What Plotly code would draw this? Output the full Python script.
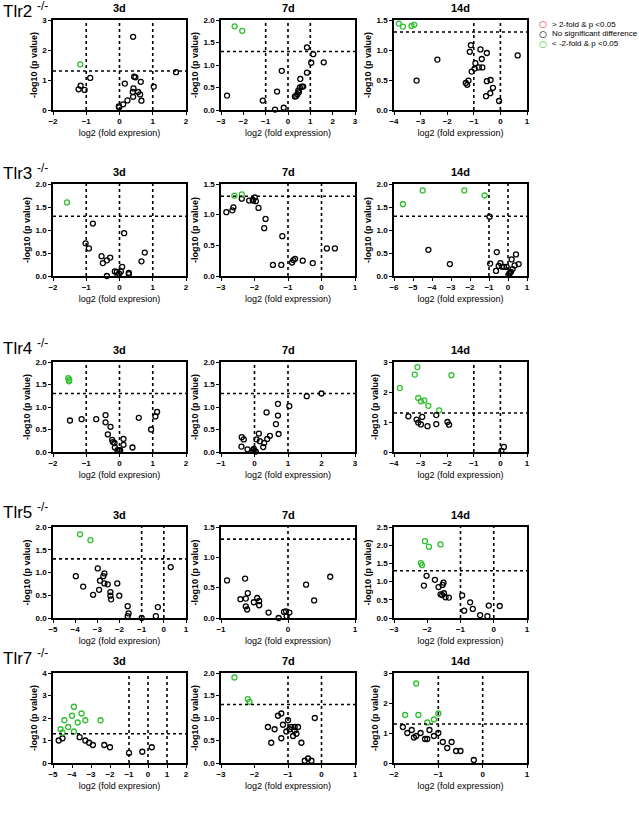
import plotly.graph_objects as go

# ---------------- data ----------------
# Tlr2
tlr2_3d_ns_x = [-0.88, -1.17, -1.23, -1.05, 0.41, 0.44, 0.48, 0.16, 0.64, 0.42, 0.40, 0.56, 0.62, 0.41, 0.24, 0.66, 0.11, -0.02, -0.01, 1.03, 1.70]
tlr2_3d_ns_y = [1.07, 0.81, 0.69, 0.67, 2.44, 1.11, 1.09, 0.88, 0.94, 0.72, 0.60, 0.60, 0.52, 0.44, 0.32, 0.31, 0.19, 0.12, 0.09, 0.78, 1.26]
tlr2_3d_dn_x = [-1.18]
tlr2_3d_dn_y = [1.52]

tlr2_7d_ns_x = [-2.73, -1.13, -0.58, -0.28, -0.49, -0.19, 0.85, 1.13, 1.04, 1.60, 0.85, 0.55, 0.46, 0.53, 0.62, 0.68, 0.49, 0.42, 0.37, 0.31]
tlr2_7d_ns_y = [0.32, 0.21, 0.01, 0.87, 0.41, 0.05, 1.39, 1.24, 1.05, 1.06, 0.83, 0.69, 0.43, 0.50, 0.52, 0.52, 0.40, 0.35, 0.31, 0.30]
tlr2_7d_dn_x = [-2.39, -2.05]
tlr2_7d_dn_y = [1.86, 1.76]

tlr2_14d_ns_x = [-3.15, -2.37, -1.11, -1.15, -0.75, -0.51, 0.65, -0.70, -0.94, -0.97, -1.08, -0.81, -0.68, -1.30, -1.20, -1.25, -0.51, -0.37, -0.28, -0.38, -0.54, -0.05]
tlr2_14d_ns_y = [0.49, 0.84, 1.08, 0.97, 1.01, 0.95, 0.91, 0.85, 0.78, 0.69, 0.64, 0.71, 0.71, 0.45, 0.49, 0.42, 0.48, 0.50, 0.37, 0.28, 0.23, 0.15]
tlr2_14d_dn_x = [-3.82, -3.66, -3.34, -3.24]
tlr2_14d_dn_y = [1.44, 1.39, 1.40, 1.42]

# Tlr3
tlr3_3d_ns_x = [-0.80, -1.02, -0.92, -0.54, -0.50, -0.38, -0.28, 0.14, 0.08, -0.14, -0.08, -0.01, 0.04, -0.38, 0.28, 0.28, 0.66, 0.76, -0.06]
tlr3_3d_ns_y = [1.14, 0.71, 0.60, 0.43, 0.28, 0.34, 0.40, 0.93, 0.20, 0.10, 0.09, 0.05, 0.10, 0.00, 0.07, 0.04, 0.32, 0.51, 0.02]
tlr3_3d_dn_x = [-1.58]
tlr3_3d_dn_y = [1.60]

tlr3_7d_ns_x = [-2.84, -2.66, -2.63, -2.38, -2.16, -2.05, -1.99, -1.96, -2.04, -1.88, -1.67, -1.71, -1.17, -1.45, -1.20, -0.88, -0.84, -0.79, -0.56, -0.26, 0.16, 0.40]
tlr3_7d_ns_y = [1.04, 1.07, 1.12, 1.26, 1.23, 1.24, 1.28, 1.22, 1.23, 1.11, 0.93, 0.78, 0.65, 0.18, 0.18, 0.22, 0.26, 0.28, 0.25, 0.21, 0.45, 0.45]
tlr3_7d_dn_x = [-2.60, -2.38]
tlr3_7d_dn_y = [1.31, 1.33]

tlr3_14d_ns_x = [-0.97, -4.19, -3.06, -0.94, -0.59, -0.40, -0.49, -0.31, -0.21, -0.07, -0.63, 0.42, 0.19, 0.35, 0.56, 0.24, 0.16, 0.07, 0.02, 0.10]
tlr3_14d_ns_y = [1.29, 0.57, 0.26, 0.27, 0.52, 0.28, 0.22, 0.20, 0.20, 0.20, 0.11, 0.47, 0.36, 0.23, 0.26, 0.15, 0.09, 0.05, 0.02, 0.07]
tlr3_14d_dn_x = [-5.53, -4.49, -2.30, -1.23]
tlr3_14d_dn_y = [1.56, 1.86, 1.86, 1.75]

# Tlr4
tlr4_3d_ns_x = [-1.49, -1.14, -0.70, -0.42, -0.42, -0.27, -0.35, -0.22, -0.20, -0.15, -0.14, -0.06, -0.01, 0.02, 0.12, 0.12, 0.39, 0.58, 0.95, 1.08, 1.13]
tlr4_3d_ns_y = [0.70, 0.73, 0.73, 0.82, 0.66, 0.56, 0.39, 0.27, 0.22, 0.20, 0.10, 0.04, 0.03, 0.04, 0.29, 0.16, 0.10, 0.76, 0.50, 0.79, 0.89]
tlr4_3d_dn_x = [-1.54, -1.51, -1.52]
tlr4_3d_dn_y = [1.64, 1.60, 1.57]

tlr4_7d_ns_x = [2.00, 1.56, 1.04, 0.70, 0.70, 0.72, 0.64, 0.36, 0.46, 0.38, 0.29, 0.26, 0.13, 0.06, 0.16, -0.38, -0.32, -0.39, -0.21, -0.04, 0.00, 0.04, -0.02]
tlr4_7d_ns_y = [1.30, 1.24, 1.02, 1.07, 0.81, 0.40, 0.62, 0.88, 0.36, 0.29, 0.20, 0.11, 0.41, 0.28, 0.24, 0.33, 0.28, 0.12, 0.06, 0.04, 0.02, 0.01, 0.07]
tlr4_7d_dn_x = []
tlr4_7d_dn_y = []

tlr4_14d_ns_x = [-3.46, -3.15, -3.09, -2.99, -2.94, -2.74, -2.41, -2.41, -1.99, -1.93, 0.13, 0.04]
tlr4_14d_ns_y = [1.19, 1.08, 0.98, 0.92, 1.17, 0.86, 1.23, 0.93, 1.00, 0.91, 0.17, 0.04]
tlr4_14d_dn_x = [-3.78, -3.12, -3.22, -1.84, -3.09, -2.99, -2.86, -2.71, -2.30]
tlr4_14d_dn_y = [2.13, 2.83, 2.58, 2.56, 1.80, 1.69, 1.72, 1.54, 1.39]

# Tlr5
tlr5_3d_ns_x = [-3.97, -3.64, -3.19, -2.98, -2.92, -2.88, -2.73, -2.68, -2.68, -2.53, -2.41, -2.41, -2.38, -2.10, -2.01, -1.63, -1.59, -1.63, -1.00, -0.36, -0.27, 0.31]
tlr5_3d_ns_y = [0.92, 0.69, 0.51, 1.09, 0.62, 0.82, 0.92, 0.98, 0.76, 0.74, 0.57, 0.49, 0.41, 0.76, 0.49, 0.26, 0.10, 0.04, 0.00, 0.04, 0.24, 1.12]
tlr5_3d_dn_x = [-3.78, -3.31]
tlr5_3d_dn_y = [1.84, 1.71]

tlr5_7d_ns_x = [-0.91, -0.64, -0.60, -0.71, -0.63, -0.63, -0.61, -0.51, -0.46, -0.43, -0.43, -0.29, -0.14, -0.06, -0.03, -0.02, 0.02, 0.27, 0.39, 0.63]
tlr5_7d_ns_y = [0.62, 0.65, 0.41, 0.31, 0.32, 0.19, 0.14, 0.26, 0.33, 0.28, 0.21, 0.09, 0.00, 0.10, 0.11, 0.03, 0.09, 0.55, 0.29, 0.68]
tlr5_7d_dn_x = []
tlr5_7d_dn_y = []

tlr5_14d_ns_x = [-2.02, -1.77, -2.10, -1.66, -1.51, -1.54, -1.50, -1.60, -1.55, -1.45, -1.35, -0.95, -0.71, -0.89, -0.63, -0.15, 0.18, -0.41, -0.19]
tlr5_14d_ns_y = [1.16, 1.05, 0.89, 0.85, 0.97, 0.91, 0.68, 0.65, 0.63, 0.57, 0.56, 0.62, 0.43, 0.20, 0.25, 0.34, 0.33, 0.08, 0.05]
tlr5_14d_dn_x = [-2.07, -1.95, -1.60, -2.19, -2.16]
tlr5_14d_dn_y = [2.11, 1.96, 2.02, 1.51, 1.45]

# Tlr7
tlr7_3d_ns_x = [-4.7, -4.5, -3.6, -3.3, -3.1, -2.9, -2.3, -2.0, -1.0, -0.3, 0.2]
tlr7_3d_ns_y = [1.0, 1.1, 1.15, 1.0, 0.9, 0.8, 0.8, 0.7, 0.45, 0.5, 0.7]
tlr7_3d_dn_x = [-4.6, -4.4, -4.2, -4.0, -3.9, -3.7, -3.5, -3.3, -3.9, -2.5, -4.5]
tlr7_3d_dn_y = [1.5, 1.9, 1.6, 2.1, 2.5, 1.8, 2.2, 1.9, 1.4, 1.9, 1.35]

tlr7_7d_ns_x = [-1.3, -1.2, -1.0, -1.15, -0.9, -0.8, -0.7, -0.95, -1.05, -0.8, -0.75, -0.85, -1.2, -0.6, -1.4, -1.5, -0.2, -0.4, -0.5, -0.3, -1.6]
tlr7_7d_ns_y = [1.05, 1.1, 0.95, 0.85, 0.8, 0.8, 0.8, 0.75, 0.7, 0.72, 0.65, 0.6, 0.55, 0.45, 0.75, 0.45, 1.0, 0.1, 0.05, 0.05, 0.8]
tlr7_7d_dn_x = [-2.6, -2.2, -2.15]
tlr7_7d_dn_y = [1.9, 1.42, 1.36]

tlr7_14d_ns_x = [-1.8, -1.7, -1.6, -1.5, -1.4, -1.3, -1.2, -1.25, -1.1, -1.0, -0.9, -0.7, -0.6, -0.5, -0.2, -1.55, -0.8]
tlr7_14d_ns_y = [1.2, 1.0, 1.1, 0.9, 1.0, 0.8, 1.1, 0.8, 0.9, 1.0, 0.7, 0.7, 0.4, 0.4, 0.1, 0.85, 0.5]
tlr7_14d_dn_x = [-1.75, -1.5, -1.45, -1.0, -1.25, -1.1]
tlr7_14d_dn_y = [1.6, 2.65, 1.6, 1.65, 1.35, 1.45]

row_labels = ["Tlr2", "Tlr3", "Tlr4", "Tlr5", "Tlr7"]
col_titles = ["3d", "7d", "14d"]
legend_labels = ["> 2-fold & p <0.05", "No significant difference", "< -2-fold & p <0.05"]

x_ranges = [[[-2, 2], [-3, 3], [-4, 1]],
            [[-2, 2], [-3, 1], [-6, 1]],
            [[-2, 2], [-1, 3], [-4, 1]],
            [[-5, 1], [-1, 1], [-3, 1]],
            [[-5, 2], [-3, 1], [-2, 1]]]
y_ranges = [[[0, 3], [0, 2], [0, 1.5]],
            [[0, 2], [0, 1.5], [0, 2]],
            [[0, 2], [0, 2], [0, 3]],
            [[0, 2], [0, 1.5], [0, 2.5]],
            [[0, 4], [0, 2], [0, 3]]]
y_dticks = [[1, 0.5, 0.5], [0.5, 0.5, 0.5], [0.5, 0.5, 1], [0.5, 0.5, 0.5], [1, 0.5, 1]]
fold_lines = [-1, 0, 1]
p_line = 1.3

panels = [
    [(tlr2_3d_ns_x, tlr2_3d_ns_y, tlr2_3d_dn_x, tlr2_3d_dn_y),
     (tlr2_7d_ns_x, tlr2_7d_ns_y, tlr2_7d_dn_x, tlr2_7d_dn_y),
     (tlr2_14d_ns_x, tlr2_14d_ns_y, tlr2_14d_dn_x, tlr2_14d_dn_y)],
    [(tlr3_3d_ns_x, tlr3_3d_ns_y, tlr3_3d_dn_x, tlr3_3d_dn_y),
     (tlr3_7d_ns_x, tlr3_7d_ns_y, tlr3_7d_dn_x, tlr3_7d_dn_y),
     (tlr3_14d_ns_x, tlr3_14d_ns_y, tlr3_14d_dn_x, tlr3_14d_dn_y)],
    [(tlr4_3d_ns_x, tlr4_3d_ns_y, tlr4_3d_dn_x, tlr4_3d_dn_y),
     (tlr4_7d_ns_x, tlr4_7d_ns_y, tlr4_7d_dn_x, tlr4_7d_dn_y),
     (tlr4_14d_ns_x, tlr4_14d_ns_y, tlr4_14d_dn_x, tlr4_14d_dn_y)],
    [(tlr5_3d_ns_x, tlr5_3d_ns_y, tlr5_3d_dn_x, tlr5_3d_dn_y),
     (tlr5_7d_ns_x, tlr5_7d_ns_y, tlr5_7d_dn_x, tlr5_7d_dn_y),
     (tlr5_14d_ns_x, tlr5_14d_ns_y, tlr5_14d_dn_x, tlr5_14d_dn_y)],
    [(tlr7_3d_ns_x, tlr7_3d_ns_y, tlr7_3d_dn_x, tlr7_3d_dn_y),
     (tlr7_7d_ns_x, tlr7_7d_ns_y, tlr7_7d_dn_x, tlr7_7d_dn_y),
     (tlr7_14d_ns_x, tlr7_14d_ns_y, tlr7_14d_dn_x, tlr7_14d_dn_y)],
]

# ---------------- layout geometry (pixels) ----------------
W, H = 639, 816
col_px = [(53, 186), (221, 355), (394, 527)]
row_px = [(20, 110), (184, 276), (362, 452), (527, 618), (673, 763)]
label_px = [10, 172, 347, 511, 657]

GREEN = "#2fbf2f"
RED = "#e8262b"
FONT = "Liberation Sans, Arial, sans-serif"

fig = go.Figure()
layout = dict(
    width=W, height=H, margin=dict(l=0, r=0, t=0, b=0, autoexpand=False),
    paper_bgcolor="white", plot_bgcolor="white",
    font=dict(family=FONT, color="black"),
    showlegend=False,
)
shapes = []
annotations = []

marker_ns = dict(symbol="circle-open", size=5, color="black", line=dict(width=1.3, color="black"))
marker_dn = dict(symbol="circle-open", size=5, color=GREEN, line=dict(width=1.3, color=GREEN))

idx = 0
for r in range(5):
    for c in range(3):
        idx += 1
        xa = "x" if idx == 1 else f"x{idx}"
        ya = "y" if idx == 1 else f"y{idx}"
        xk = "xaxis" if idx == 1 else f"xaxis{idx}"
        yk = "yaxis" if idx == 1 else f"yaxis{idx}"
        nsx, nsy, dnx, dny = panels[r][c]
        fig.add_trace(go.Scatter(x=nsx, y=nsy, mode="markers", marker=marker_ns,
                                 name=legend_labels[1], xaxis=xa, yaxis=ya, cliponaxis=False))
        fig.add_trace(go.Scatter(x=dnx, y=dny, mode="markers", marker=marker_dn,
                                 name=legend_labels[2], xaxis=xa, yaxis=ya, cliponaxis=False))
        x0, x1 = col_px[c]
        yt, yb = row_px[r]
        xr = x_ranges[r][c]
        yr = y_ranges[r][c]
        axis_common = dict(showline=True, linecolor="black", linewidth=1.6, mirror=True,
                           ticks="outside", ticklen=3, tickwidth=1.2, tickcolor="black",
                           showgrid=False, zeroline=False,
                           tickfont=dict(size=8, family=FONT, weight="bold"))
        xlabel = "log2 (fold expresion)" if c == 0 else "log2 (fold expression)"
        layout[xk] = dict(axis_common, domain=[x0 / W, x1 / W], range=xr, dtick=1,
                          anchor=ya, title=dict(text=xlabel, standoff=4,
                                                font=dict(size=9, family=FONT)))
        layout[yk] = dict(axis_common, domain=[1 - yb / H, 1 - yt / H], range=yr,
                          dtick=y_dticks[r][c], tickformat=(".1f" if y_dticks[r][c] < 1 else "d"),
                          anchor=xa, title=dict(text="-log10 (p value)", standoff=3,
                                                font=dict(size=9, family=FONT, weight="bold")))
        # dotted threshold lines
        shapes.append(dict(type="line", xref=f"{xa} domain", yref=ya, x0=0, x1=1,
                           y0=p_line, y1=p_line, line=dict(color="black", width=1.6, dash="dot")))
        for fl in fold_lines:
            if xr[0] < fl < xr[1]:
                shapes.append(dict(type="line", xref=xa, yref=f"{ya} domain", x0=fl, x1=fl,
                                   y0=0, y1=1, line=dict(color="black", width=1.6, dash="dot")))
        annotations.append(dict(text=f"<b>{col_titles[c]}</b>", xref="paper", yref="paper",
                                x=(x0 + x1) / 2 / W, y=1 - (yt - 4) / H, xanchor="center",
                                yanchor="bottom", showarrow=False,
                                font=dict(size=11, family=FONT)))
    annotations.append(dict(text=f"{row_labels[r]} <sup>-/-</sup>", xref="paper", yref="paper",
                            x=1 / W, y=1 - label_px[r] / H, xanchor="left", yanchor="middle",
                            showarrow=False, font=dict(size=17, family=FONT)))

# legend as text annotations
legend_colors = [RED, "black", GREEN]
for i, (lab, col) in enumerate(zip(legend_labels, legend_colors)):
    yy = 1 - (24 + 9.8 * i) / H
    annotations.append(dict(text="\u25cb", xref="paper", yref="paper", x=543 / W, y=yy,
                            xanchor="center", yanchor="middle", showarrow=False,
                            font=dict(size=9, family="DejaVu Sans", color=col, weight="bold")))
    annotations.append(dict(text=lab, xref="paper", yref="paper", x=550 / W, y=yy,
                            xanchor="left", yanchor="middle", showarrow=False,
                            font=dict(size=8, family=FONT)))

layout["shapes"] = shapes
layout["annotations"] = annotations
fig.update_layout(**layout)
fig.write_html("out.html", config={"displayModeBar": False},
               post_script="document.body.style.margin='0px';document.body.style.padding='0px';")
